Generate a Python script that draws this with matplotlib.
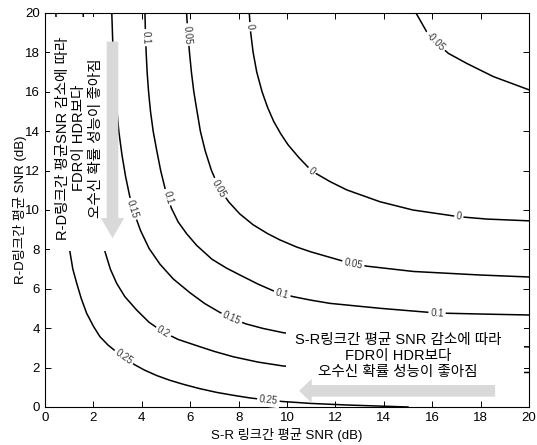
import numpy as np
import matplotlib
matplotlib.use("Agg")
import matplotlib.pyplot as plt
from matplotlib.patches import FancyArrow, Rectangle

plt.rcParams['font.family'] = ['Liberation Sans', 'Noto Sans CJK KR', 'DejaVu Sans']

# contour lines (S-R SNR, R-D SNR), one pair per level
lvl_m005_x = [15.33, 15.77, 16.12, 16.67, 17.43, 18.53, 20.0]
lvl_m005_y = [20.0, 19.05, 18.54, 17.95, 17.44, 16.77, 16.1]

lvl_0_x = [8.44, 8.5, 8.6, 8.75, 8.97, 9.2, 9.45, 9.75, 10.05, 10.5, 11.02, 11.78, 12.47, 13.84, 15.2, 17.1, 18.25, 20.0]
lvl_0_y = [20.0, 19.0, 18.0, 17.0, 16.0, 15.2, 14.5, 13.85, 13.3, 12.65, 11.98, 11.44, 11.02, 10.42, 10.0, 9.66, 9.54, 9.45]

lvl_005_x = [5.85, 5.9, 5.97, 6.05, 6.15, 6.27, 6.42, 6.62, 6.88, 7.2, 7.6, 8.05, 8.6, 9.2, 9.71, 10.4, 11.0, 12.33, 12.74, 13.29, 15.22, 17.98, 20.0]
lvl_005_y = [20.0, 19.0, 18.0, 17.0, 16.0, 15.1, 14.0, 13.0, 12.0, 11.1, 10.4, 9.8, 9.25, 8.8, 8.48, 8.12, 7.87, 7.4, 7.28, 7.15, 6.88, 6.7, 6.6]

lvl_01_x = [4.13, 4.15, 4.18, 4.22, 4.28, 4.36, 4.47, 4.62, 4.78, 4.98, 5.22, 5.5, 5.85, 6.27, 6.9, 7.5, 8.2, 8.8, 9.43, 9.8, 10.26, 11.0, 11.78, 13.84, 16.2, 17.98, 20.0]
lvl_01_y = [20.0, 19.0, 18.0, 17.0, 16.0, 15.0, 14.0, 13.0, 12.0, 11.0, 10.1, 9.4, 8.8, 8.2, 7.5, 7.05, 6.61, 6.24, 5.9, 5.75, 5.6, 5.42, 5.26, 5.01, 4.77, 4.72, 4.67]

lvl_015_x = [2.76, 2.8, 2.86, 2.94, 3.05, 3.18, 3.33, 3.5, 3.7, 3.95, 4.3, 4.75, 5.3, 5.99, 6.6, 7.2, 7.71, 8.3, 9.0, 9.85, 10.3, 12.0, 14.0, 16.0, 18.0, 20.0]
lvl_015_y = [20.0, 18.5, 17.0, 15.5, 14.0, 12.8, 11.7, 10.7, 9.8, 8.95, 8.05, 7.25, 6.5, 5.8, 5.25, 4.82, 4.5, 4.22, 3.99, 3.77, 3.7, 3.5, 3.32, 3.2, 3.12, 3.05]

lvl_02_x = [1.58, 1.6, 1.7, 1.85, 2.05, 2.25, 2.48, 2.7, 2.96, 3.3, 3.79, 4.3, 4.89, 5.5, 6.4, 7.0, 7.78, 8.8, 9.85, 12.0, 14.0, 16.0, 18.0, 20.0]
lvl_02_y = [20.0, 18.0, 16.0, 14.0, 12.0, 10.0, 7.88, 7.0, 6.28, 5.6, 4.92, 4.3, 3.8, 3.43, 3.06, 2.82, 2.55, 2.28, 2.08, 1.95, 1.86, 1.8, 1.77, 1.75]

lvl_025_x = [0.45, 0.5, 0.6, 0.75, 0.9, 1.03, 1.15, 1.31, 1.5, 1.72, 2.0, 2.27, 2.6, 2.95, 3.3, 3.7, 4.1, 4.61, 5.15, 5.72, 6.4, 7.1, 7.8, 8.47, 9.23, 9.8, 11.0, 12.5, 14.0, 15.0]
lvl_025_y = [20.0, 18.0, 15.0, 12.0, 10.0, 7.88, 7.0, 6.28, 5.5, 4.76, 4.1, 3.57, 3.15, 2.8, 2.47, 2.15, 1.88, 1.6, 1.36, 1.15, 0.93, 0.74, 0.59, 0.46, 0.35, 0.28, 0.18, 0.1, 0.04, 0.0]

levels = {
    '-0.05': (lvl_m005_x, lvl_m005_y),
    '0': (lvl_0_x, lvl_0_y),
    '0.05': (lvl_005_x, lvl_005_y),
    '0.1': (lvl_01_x, lvl_01_y),
    '0.15': (lvl_015_x, lvl_015_y),
    '0.2': (lvl_02_x, lvl_02_y),
    '0.25': (lvl_025_x, lvl_025_y),
}

# where the inline labels sit
label_spots = [('-0.05', 16.12, 18.54),
               ('0', 8.45, 19.3), ('0', 11.02, 11.98), ('0', 17.1, 9.66),
               ('0.05', 5.87, 18.9), ('0.05', 7.2, 11.1), ('0.05', 12.74, 7.28),
               ('0.1', 4.15, 18.75), ('0.1', 5.08, 10.65), ('0.1', 9.8, 5.75), ('0.1', 16.2, 4.77),
               ('0.15', 3.62, 10.05), ('0.15', 7.71, 4.5),
               ('0.2', 4.89, 3.8),
               ('0.25', 3.25, 2.52), ('0.25', 9.23, 0.35)]

ticks = [0, 2, 4, 6, 8, 10, 12, 14, 16, 18, 20]

fig = plt.figure(figsize=(5.37, 4.45), dpi=100)
ax = fig.add_axes([0.0838, 0.0854, 0.9013, 0.8854])
ax.set_xlim(0, 20)
ax.set_ylim(0, 20)
ax.set_xticks(ticks)
ax.set_yticks(ticks)
ax.tick_params(direction='in', top=True, right=True, length=4, width=0.7, labelsize=9.5)
for s in ax.spines.values():
    s.set_linewidth(0.8)

for name, (xs, ys) in levels.items():
    ax.plot(xs, ys, color='black', lw=1.1, zorder=2)


def label_angle(xs, ys, x0, y0):
    pts = ax.transData.transform(np.column_stack([xs, ys]))
    p = ax.transData.transform((x0, y0))
    i = int(np.argmin(np.hypot(pts[:, 0] - p[0], pts[:, 1] - p[1])))
    i = min(max(i, 1), len(xs) - 2)
    d = pts[i + 1] - pts[i - 1]
    ang = np.degrees(np.arctan2(d[1], d[0]))
    if ang > 90:
        ang -= 180
    if ang <= -90:
        ang += 180
    return ang


for name, lx, ly in label_spots:
    xs, ys = levels[name]
    ax.text(lx, ly, name, fontsize=7, color='#333333', ha='center', va='center',
            rotation=label_angle(xs, ys, lx, ly), rotation_mode='anchor', zorder=3,
            bbox=dict(boxstyle='square,pad=0.2', fc='white', ec='none'))

# white masks behind the annotation texts
ax.add_patch(Rectangle((0.2, 7.92), 2.35, 11.88, fc='white', ec='none', zorder=4))
ax.add_patch(Rectangle((9.95, 0.95), 9.85, 3.25, fc='white', ec='none', zorder=4))

ax.text(1.42, 13.65, 'R-D링크간 평균SNR 감소에 따라\nFDR이 HDR보다\n오수신 확률 성능이 좋아짐',
        fontsize=10.5, rotation=90, ha='center', va='center', multialignment='center',
        linespacing=1.2, zorder=5)
ax.text(14.59, 2.59, 'S-R링크간 평균 SNR 감소에 따라\nFDR이 HDR보다\n오수신 확률 성능이 좋아짐',
        fontsize=10.5, ha='center', va='center', multialignment='center',
        linespacing=1.2, zorder=5)

gray = '#d9d9d9'
ax.add_patch(FancyArrow(2.79, 18.55, 0, -9.98, width=0.48, head_width=0.96, head_length=1.02,
                        length_includes_head=True, fc=gray, ec='none', zorder=6))
ax.add_patch(FancyArrow(18.6, 0.82, -8.1, 0, width=0.59, head_width=1.22, head_length=0.52,
                        length_includes_head=True, fc=gray, ec='none', zorder=6))

ax.set_xlabel('S-R 링크간 평균 SNR (dB)', fontsize=9.5, labelpad=3)
ax.set_ylabel('R-D링크간 평균 SNR (dB)', fontsize=9.5, labelpad=-1)

fig.savefig('out.png', dpi=100)
